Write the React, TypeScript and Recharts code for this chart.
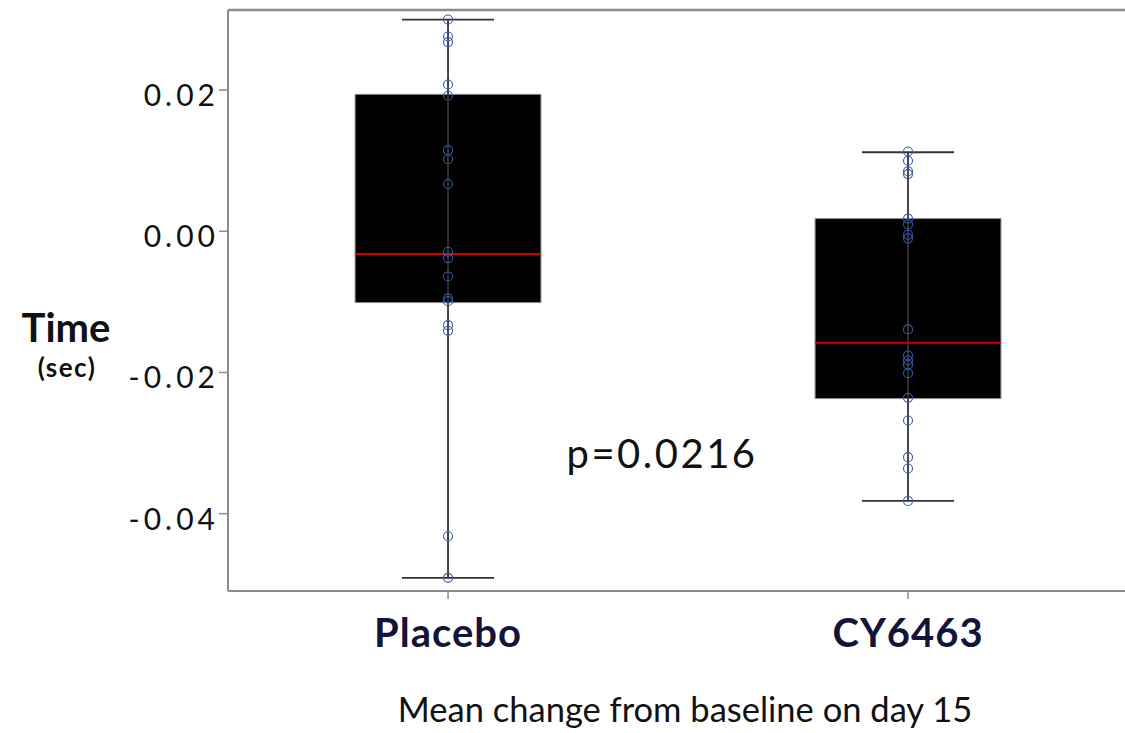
import React from 'react';
import { ComposedChart, XAxis, YAxis, Scatter, ReferenceArea, ReferenceLine, Label } from 'recharts';

const categories = ['Placebo', 'CY6463'];
const categoryPositions = [1, 2];

const placeboPoints = [0.03, 0.0276, 0.0268, 0.0208, 0.0192, 0.0115, 0.0102, 0.0067, -0.0029, -0.0038, -0.0064, -0.0095, -0.0099, -0.0133, -0.0141, -0.0432, -0.0491];
const cy6463Points = [0.0113, 0.01, 0.0085, 0.0081, 0.0018, 0.001, -0.0005, -0.001, -0.0139, -0.0176, -0.0183, -0.0189, -0.0201, -0.0236, -0.0268, -0.032, -0.0336, -0.0382];

const boxMin = [-0.0491, -0.0382];
const boxQ1 = [-0.0101, -0.0237];
const boxMedian = [-0.0032, -0.0158];
const boxQ3 = [0.0194, 0.0018];
const boxMax = [0.03, 0.0112];

const yTicks = [-0.04, -0.02, 0, 0.02];
const yDomain = [-0.05096, 0.03135];
const xDomain = [0.5217, 2.4717];

const yTitle = 'Time';
const yUnit = '(sec)';
const xTitle = 'Mean change from baseline on day 15';
const pValueText = 'p=0.0216';

const BOX_HALF = 0.202;
const CAP_HALF = 0.1;
const FONT = 'Lato, "Open Sans", sans-serif';

const scatterData = [
  ...placeboPoints.map((v) => ({ x: categoryPositions[0], y: v })),
  ...cy6463Points.map((v) => ({ x: categoryPositions[1], y: v })),
];

const XTick = (props: any) => {
  const { x, y, payload } = props;
  const idx = categoryPositions.indexOf(payload.value);
  return (
    <text x={x} y={y} dy={46} textAnchor="middle" fontFamily={FONT} fontWeight={700} fontSize={40} letterSpacing={1} fill="#14143a">
      {categories[idx]}
    </text>
  );
};

const YTick = (props: any) => {
  const { x, y, payload } = props;
  return (
    <text x={x} y={y} dy={16} textAnchor="end" fontFamily={FONT} fontSize={30} letterSpacing={4} fill="#111">
      {Number(payload.value).toFixed(2)}
    </text>
  );
};

const YTitle = () => (
  <g>
    <text x={66} y={342} textAnchor="middle" fontFamily={FONT} fontWeight={700} fontSize={40} fill="#111">{yTitle}</text>
    <text x={67} y={377} textAnchor="middle" fontFamily={FONT} fontWeight={700} fontSize={26} letterSpacing={1.5} fill="#111">{yUnit}</text>
  </g>
);

const XTitle = () => (
  <text x={685} y={722} textAnchor="middle" fontFamily={FONT} fontSize={34.5} fill="#111">{xTitle}</text>
);

const renderPoint = (props: any) => (
  <circle cx={props.cx} cy={props.cy} r={4.5} fill="none" stroke="#3559aa" strokeWidth={1.1} />
);

export default function App() {
  return (
    <div style={{ position: 'absolute', left: 0, top: 0, width: 1125, height: 733, background: '#fff' }}>
      <ComposedChart width={1125} height={733} margin={{ top: 10, right: 0, bottom: 0, left: 0 }}>
        <XAxis
          type="number"
          dataKey="x"
          domain={xDomain}
          ticks={categoryPositions}
          allowDataOverflow
          height={142}
          interval={0}
          axisLine={{ stroke: '#8c8c8c', strokeWidth: 2 }}
          tickLine={{ stroke: '#8c8c8c', strokeWidth: 1.5 }}
          tickSize={8}
          tick={<XTick />}
        >
          <Label content={XTitle} />
        </XAxis>
        <YAxis
          type="number"
          dataKey="y"
          domain={yDomain}
          ticks={yTicks}
          allowDataOverflow
          width={228}
          interval={0}
          axisLine={{ stroke: '#8c8c8c', strokeWidth: 2 }}
          tickLine={{ stroke: '#8c8c8c', strokeWidth: 1.5 }}
          tickSize={9}
          tickMargin={0}
          tick={<YTick />}
        >
          <Label content={YTitle} />
        </YAxis>
        <ReferenceLine y={yDomain[1]} stroke="#8c8c8c" strokeWidth={2.5} ifOverflow="visible" />
        {categoryPositions.map((c, i) => (
          <ReferenceLine key={`w${i}`} segment={[{ x: c, y: boxMin[i] }, { x: c, y: boxMax[i] }]} stroke="#333" strokeWidth={1.8} ifOverflow="visible" />
        ))}
        {categoryPositions.map((c, i) => (
          <ReferenceLine key={`ct${i}`} segment={[{ x: c - CAP_HALF, y: boxMax[i] }, { x: c + CAP_HALF, y: boxMax[i] }]} stroke="#333" strokeWidth={1.8} ifOverflow="visible" />
        ))}
        {categoryPositions.map((c, i) => (
          <ReferenceLine key={`cb${i}`} segment={[{ x: c - CAP_HALF, y: boxMin[i] }, { x: c + CAP_HALF, y: boxMin[i] }]} stroke="#333" strokeWidth={1.8} ifOverflow="visible" />
        ))}
        {categoryPositions.map((c, i) => (
          <ReferenceArea key={`b${i}`} x1={c - BOX_HALF} x2={c + BOX_HALF} y1={boxQ1[i]} y2={boxQ3[i]} fill="#000" fillOpacity={1} stroke="#8c8c8c" strokeWidth={1} ifOverflow="visible" />
        ))}
        {categoryPositions.map((c, i) => (
          <ReferenceLine key={`m${i}`} segment={[{ x: c - BOX_HALF, y: boxMedian[i] }, { x: c + BOX_HALF, y: boxMedian[i] }]} stroke="#d00000" strokeWidth={2} ifOverflow="visible" />
        ))}
        <Scatter data={scatterData} dataKey="y" isAnimationActive={false} shape={renderPoint} />
      </ComposedChart>
      <svg width={1125} height={733} style={{ position: 'absolute', left: 0, top: 0, pointerEvents: 'none' }}>
        <text x={662} y={468} textAnchor="middle" fontFamily={FONT} fontSize={40} letterSpacing={2.5} fill="#111">{pValueText}</text>
      </svg>
    </div>
  );
}
